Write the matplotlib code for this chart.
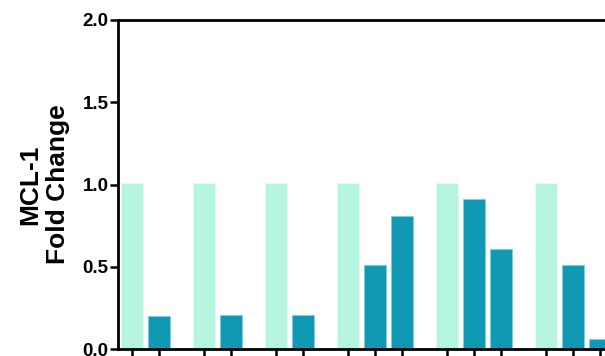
import matplotlib
matplotlib.use("Agg")
import matplotlib.pyplot as plt

plt.rcParams['font.family'] = ['Liberation Sans', 'DejaVu Sans']

# Fold change per group: a vehicle bar followed by the treated conditions
vehicle = [1.01, 1.01, 1.01, 1.01, 1.01, 1.01]
treated = [
    [0.20],
    [0.21],
    [0.21],
    [0.51, 0.81],
    [0.91, 0.61],
    [0.51, 0.06],
]
y_ticks = [0.0, 0.5, 1.0, 1.5, 2.0]
y_tick_labels = ["0.0", "0.5", "1.0", "1.5", "2.0"]

light = "#B5F5DF"
dark = "#1198B2"

fig = plt.figure(figsize=(6.05, 3.56), dpi=100)
W, H = 605, 356
left_px, top_px, bottom_px = 118, 20, 349.3
unit_px = 27.0
x_lo, x_hi = -0.52, 18.0
ax = fig.add_axes([left_px / W, (H - bottom_px) / H,
                   (x_hi - x_lo) * unit_px / W, (bottom_px - top_px) / H])

gap = 2.0 / 3.0
pos = 0.0
tick_pos = []
for v, tr in zip(vehicle, treated):
    ax.bar(pos, v, width=0.8, color=light, edgecolor="#E6FBF4", linewidth=0.6, zorder=2)
    tick_pos.append(pos)
    for k, t in enumerate(tr):
        p = pos + 1 + k
        ax.bar(p, t, width=0.8, color=dark, edgecolor="#7ACFDC", linewidth=0.6, zorder=2)
        tick_pos.append(p)
    pos += 1 + len(tr) + gap

ax.set_xlim(x_lo, x_hi)
ax.set_ylim(0, 2.0)
ax.set_yticks(y_ticks)
ax.set_yticklabels(y_tick_labels, fontsize=13.5, fontweight="bold")
ax.set_xticks(tick_pos)
ax.tick_params(axis="x", labelbottom=False, direction="out", length=8, width=1.8)
ax.tick_params(axis="y", direction="out", length=5.8, width=1.8, pad=1)

for s in ["left", "top", "bottom"]:
    ax.spines[s].set_linewidth(2.0)
ax.spines["right"].set_visible(False)

fig.text(44 / W, 1 - 184.5 / H, "MCL-1\nFold Change", rotation=90,
         ha="center", va="center", multialignment="center",
         fontsize=19, fontweight="bold")

fig.savefig("out.png", dpi=100)
